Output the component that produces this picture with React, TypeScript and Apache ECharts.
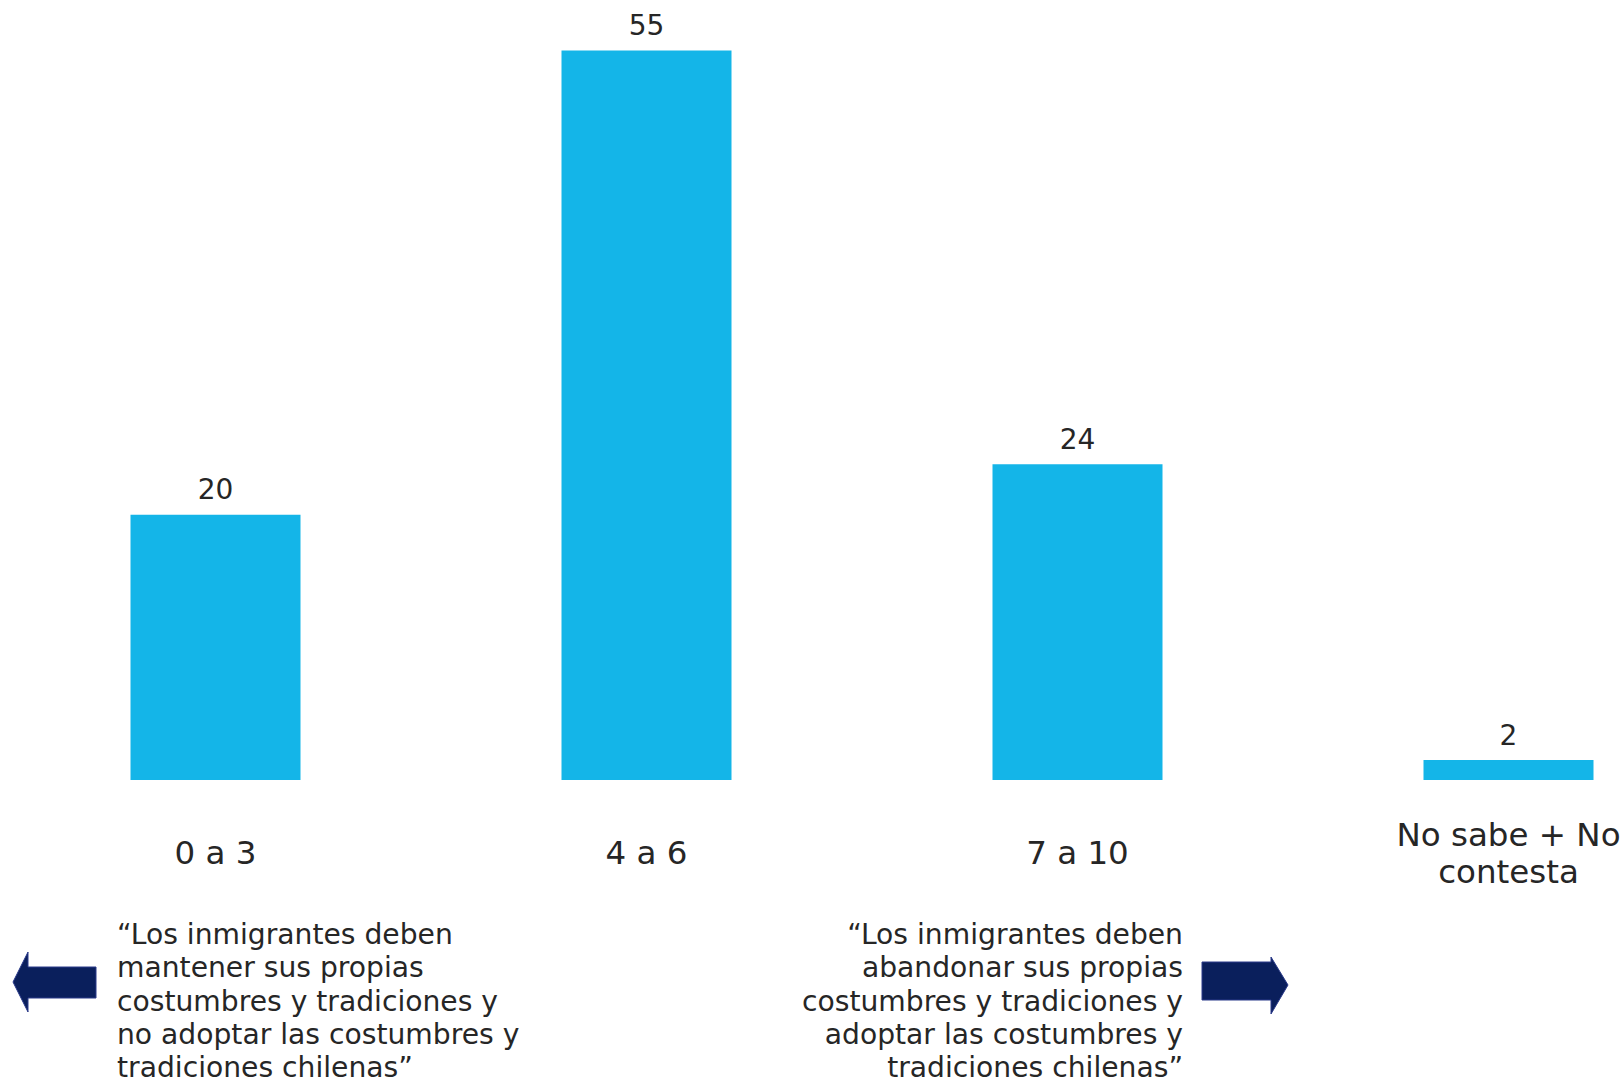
import React, { useEffect, useRef } from "react";
import * as echarts from "echarts";

const categories = ["0 a 3", "4 a 6", "7 a 10", "No sabe + No\ncontesta"];
const values = [20, 55, 23.8, 1.5];
const leftNote = [
  "“Los inmigrantes deben",
  "mantener sus propias",
  "costumbres y tradiciones y",
  "no adoptar las costumbres y",
  "tradiciones chilenas”",
];
const rightNote = [
  "“Los inmigrantes deben",
  "abandonar sus propias",
  "costumbres y tradiciones y",
  "adoptar las costumbres y",
  "tradiciones chilenas”",
];

const FONT = "DejaVu Sans";
const TEXT = "#262626";
const BAR = "#14B5E8";
const NAVY = "#0A1F5C";

export default function App() {
  const ref = useRef<HTMLDivElement>(null);
  useEffect(() => {
    if (!ref.current) return;
    const chart = echarts.init(ref.current, null, { renderer: "svg" });
    chart.setOption({
      animation: false,
      backgroundColor: "#ffffff",
      grid: { left: 0, top: 0, right: 0, bottom: 307, containLabel: false },
      xAxis: {
        type: "category",
        data: categories,
        axisLine: { show: false },
        axisTick: { show: false },
        axisLabel: {
          margin: 73,
          verticalAlign: "middle",
          fontFamily: FONT,
          fontSize: 32.5,
          lineHeight: 37,
          color: TEXT,
          interval: 0,
        },
      },
      yAxis: { type: "value", min: 0, max: 58.8, show: false, splitLine: { show: false } },
      series: [
        {
          type: "bar",
          data: values,
          barWidth: 170,
          itemStyle: { color: BAR },
          label: {
            show: true,
            position: "top",
            distance: 11,
            fontFamily: FONT,
            fontSize: 28,
            color: TEXT,
            formatter: (p: any) => String(Math.round(p.value)),
          },
        },
      ],
      graphic: [
        {
          type: "text",
          x: 117,
          y: 918,
          style: {
            text: leftNote.join("\n"),
            fontFamily: FONT,
            fontSize: 28.2,
            lineHeight: 33.3,
            fill: TEXT,
            align: "left",
            verticalAlign: "top",
          },
        },
        {
          type: "text",
          x: 1183,
          y: 918,
          style: {
            text: rightNote.join("\n"),
            fontFamily: FONT,
            fontSize: 28.2,
            lineHeight: 33.3,
            fill: TEXT,
            align: "right",
            verticalAlign: "top",
          },
        },
        {
          type: "polygon",
          shape: {
            points: [
              [13, 982], [28, 952], [28, 967], [96, 967], [96, 998], [28, 998], [28, 1012],
            ],
          },
          style: { fill: NAVY, stroke: "#2A3A8A", lineWidth: 1 },
        },
        {
          type: "polygon",
          shape: {
            points: [
              [1202, 962], [1271, 962], [1271, 957], [1288, 985], [1271, 1014], [1271, 1000], [1202, 1000],
            ],
          },
          style: { fill: NAVY, stroke: "#2A3A8A", lineWidth: 1 },
        },
      ],
    });
    return () => chart.dispose();
  }, []);
  return (
    <div
      style={{
        position: "absolute",
        left: 0,
        top: 0,
        width: 1624,
        height: 1087,
        overflow: "hidden",
      }}
    >
      <div ref={ref} style={{ width: 1724, height: 1087 }} />
    </div>
  );
}
